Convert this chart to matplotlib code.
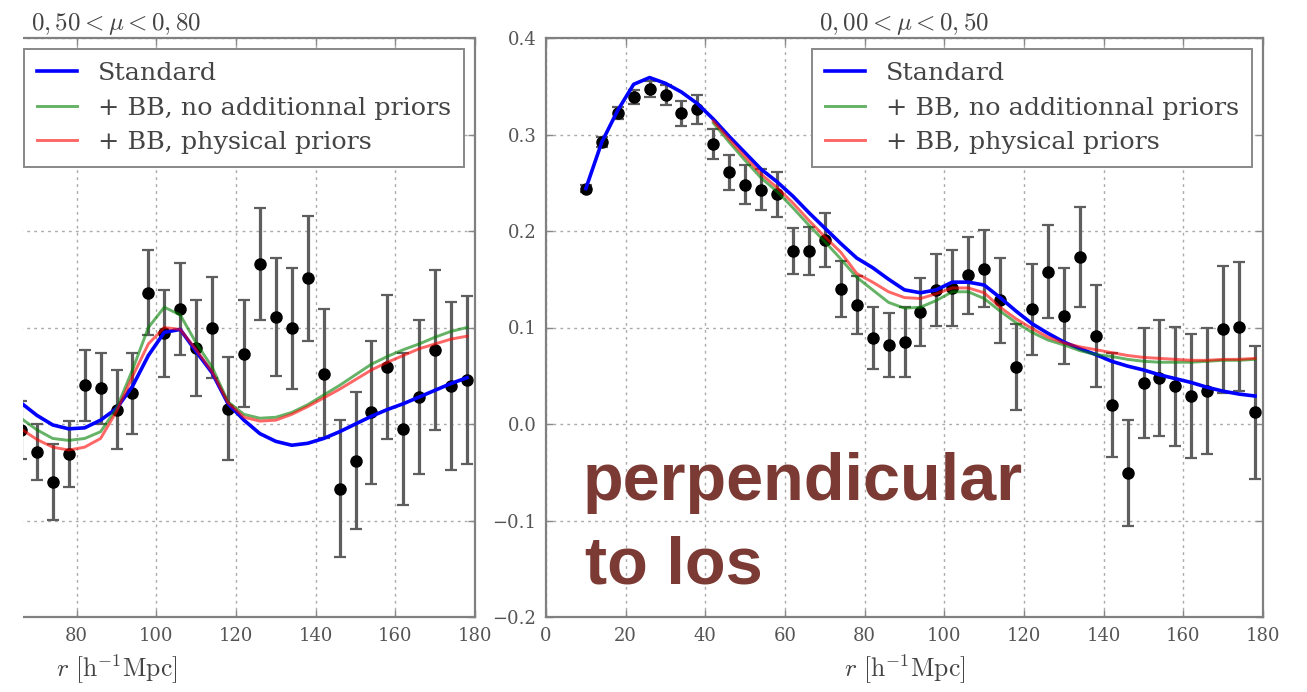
import matplotlib
matplotlib.use("Agg")
import matplotlib.pyplot as plt
from matplotlib.patches import Rectangle

plt.rcParams['mathtext.fontset'] = 'cm'
plt.rcParams['font.family'] = ['DejaVu Serif']

# ---- left panel: 0.50 < mu < 0.80 (cut on the left at r ~ 66) ----
r_left = [66, 70, 74, 78, 82, 86, 90, 94, 98, 102, 106, 110, 114, 118, 122,
          126, 130, 134, 138, 142, 146, 150, 154, 158, 162, 166, 170, 174, 178]
xi_left = [-0.006, -0.029, -0.060, -0.031, 0.040, 0.037, 0.015, 0.032, 0.136, 0.094,
           0.119, 0.079, 0.100, 0.016, 0.073, 0.166, 0.111, 0.099, 0.151, 0.052,
           -0.067, -0.038, 0.012, 0.059, -0.005, 0.028, 0.077, 0.039, 0.046]
err_left = [0.030, 0.0295, 0.039, 0.0345, 0.037, 0.037, 0.0405, 0.042, 0.044, 0.045,
            0.0475, 0.050, 0.052, 0.053, 0.055, 0.058, 0.061, 0.063, 0.065, 0.067,
            0.071, 0.071, 0.074, 0.075, 0.0785, 0.080, 0.083, 0.087, 0.087]
std_left = [0.022, 0.009, -0.001, -0.005, -0.004, 0.004, 0.016, 0.039, 0.071, 0.095,
            0.098, 0.075, 0.053, 0.021, 0.004, -0.010, -0.018, -0.022, -0.020, -0.015,
            -0.008, 0.000, 0.008, 0.015, 0.021, 0.028, 0.035, 0.042, 0.048]
bb_free_left = [0.006, -0.006, -0.015, -0.017, -0.015, -0.008, 0.016, 0.056, 0.100, 0.121,
                0.113, 0.084, 0.059, 0.023, 0.010, 0.006, 0.007, 0.012, 0.020, 0.030,
                0.040, 0.051, 0.062, 0.070, 0.077, 0.083, 0.090, 0.096, 0.100]
bb_phys_left = [-0.005, -0.016, -0.024, -0.027, -0.024, -0.015, 0.013, 0.049, 0.083, 0.100,
                0.098, 0.077, 0.054, 0.022, 0.007, 0.003, 0.004, 0.010, 0.018, 0.027,
                0.036, 0.046, 0.056, 0.064, 0.071, 0.078, 0.083, 0.088, 0.091]

# ---- right panel: 0.00 < mu < 0.50 ----
r_right = [10, 14, 18, 22, 26, 30, 34, 38, 42, 46, 50, 54, 58, 62, 66, 70, 74, 78,
           82, 86, 90, 94, 98, 102, 106, 110, 114, 118, 122, 126, 130, 134, 138,
           142, 146, 150, 154, 158, 162, 166, 170, 174, 178]
xi_right = [0.244, 0.292, 0.322, 0.339, 0.347, 0.341, 0.322, 0.326, 0.290, 0.261,
            0.248, 0.243, 0.238, 0.179, 0.179, 0.191, 0.140, 0.123, 0.089, 0.082,
            0.085, 0.116, 0.139, 0.141, 0.154, 0.161, 0.128, 0.059, 0.119, 0.158,
            0.112, 0.173, 0.091, 0.020, -0.051, 0.042, 0.048, 0.039, 0.029, 0.034,
            0.098, 0.101, 0.012]
err_right = [0.004, 0.005, 0.006, 0.007, 0.008, 0.010, 0.013, 0.015, 0.0155, 0.018,
             0.020, 0.021, 0.023, 0.024, 0.025, 0.028, 0.029, 0.030, 0.032, 0.033,
             0.036, 0.035, 0.037, 0.039, 0.040, 0.040, 0.044, 0.045, 0.047, 0.048,
             0.050, 0.052, 0.053, 0.054, 0.055, 0.057, 0.060, 0.062, 0.064, 0.065,
             0.066, 0.067, 0.069]
std_right = [0.244, 0.292, 0.325, 0.352, 0.359, 0.353, 0.344, 0.332, 0.316, 0.298,
             0.281, 0.264, 0.251, 0.236, 0.219, 0.203, 0.187, 0.172, 0.162, 0.150,
             0.139, 0.136, 0.139, 0.147, 0.147, 0.144, 0.131, 0.117, 0.104, 0.094,
             0.085, 0.078, 0.072, 0.065, 0.060, 0.056, 0.051, 0.047, 0.043, 0.038,
             0.034, 0.031, 0.029]
r_bb = r_right[8:]
bb_free_right = [0.312, 0.292, 0.273, 0.255, 0.241, 0.224, 0.206, 0.189, 0.171, 0.152,
                 0.139, 0.126, 0.120, 0.121, 0.128, 0.137, 0.137, 0.130, 0.117, 0.105,
                 0.095, 0.087, 0.082, 0.076, 0.072, 0.070, 0.067, 0.065, 0.064, 0.064,
                 0.064, 0.065, 0.066, 0.066, 0.067]
bb_phys_right = [0.314, 0.295, 0.277, 0.259, 0.245, 0.229, 0.211, 0.194, 0.178, 0.156,
                 0.147, 0.137, 0.131, 0.130, 0.135, 0.141, 0.141, 0.136, 0.121, 0.109,
                 0.099, 0.090, 0.084, 0.080, 0.077, 0.074, 0.071, 0.069, 0.068, 0.067,
                 0.066, 0.066, 0.067, 0.067, 0.068]

xticks_left = [80, 100, 120, 140, 160, 180]
xticks_right = [0, 20, 40, 60, 80, 100, 120, 140, 160, 180]
yticks = [-0.2, -0.1, 0.0, 0.1, 0.2, 0.3, 0.4]
labels = ['Standard', '+ BB, no additionnal priors', '+ BB, physical priors']
TXT = '#444444'
W, H = 1307, 692


def draw_panel(ax, r, xi, err, std, r_bb, bb_free, bb_phys, title, xticks):
    ax.errorbar(r, xi, yerr=err, fmt='o', color='black', ms=8, ecolor='#5e5e5e',
                elinewidth=2.3, capsize=4, capthick=1.6, zorder=2)
    ax.plot(r, std, color='#0000ff', lw=2.6, label=labels[0], zorder=3)
    ax.plot(r_bb, bb_free, color='green', alpha=0.6, lw=2.1, label=labels[1], zorder=3)
    ax.plot(r_bb, bb_phys, color='red', alpha=0.6, lw=2.1, label=labels[2], zorder=3)

    ax.set_xlim(0, 180)
    ax.set_ylim(-0.2, 0.4)
    ax.set_xticks(xticks)
    ax.set_yticks(yticks)
    ax.grid(True, linestyle=(0, (2, 3)), color='#aaaaaa', lw=1.0, zorder=0)
    ax.tick_params(direction='in', length=5, width=1, color='#888888', top=True,
                   right=True, labelsize=13, labelcolor='#555555', pad=7)
    for s in ax.spines.values():
        s.set_color('#808080')
        s.set_linewidth(1.6)

    ax.set_title(title, fontsize=18, color=TXT, pad=6)
    ax.set_xlabel(r'$r\ [\mathrm{h^{-1}Mpc}]$', fontsize=18.5, color=TXT, labelpad=6)

    leg = ax.legend(loc='upper right', fontsize=18.3, frameon=True, fancybox=False,
                    framealpha=1, edgecolor='#888888', handlelength=1.6,
                    handletextpad=0.8, labelspacing=0.45, borderpad=0.5,
                    borderaxespad=0.45)
    leg.get_frame().set_linewidth(1.4)
    for t in leg.get_texts():
        t.set_color(TXT)


fig = plt.figure(figsize=(W / 100, H / 100), dpi=100)

ax_bottom = 1 - 617 / H
ax_height = (617 - 38) / H
ax_left = fig.add_axes([-242 / W, ax_bottom, 717 / W, ax_height])
ax_right = fig.add_axes([546 / W, ax_bottom, 717 / W, ax_height])

draw_panel(ax_left, r_left, xi_left, err_left, std_left, r_left, bb_free_left,
           bb_phys_left, r'$0,50 < \mu < 0,80$', xticks_left)
draw_panel(ax_right, r_right, xi_right, err_right, std_right, r_bb, bb_free_right,
           bb_phys_right, r'$0,00 < \mu < 0,50$', xticks_right)

# the left panel is cropped in the original picture: its y labels are out of view
ax_left.tick_params(labelleft=False, left=False)
ax_left.spines['left'].set_visible(False)
fig.add_artist(Rectangle((0, 0), 23 / W, 1, transform=fig.transFigure,
                         facecolor='white', edgecolor='none', zorder=10))

annot = dict(fontsize=48, fontweight='bold', color='#7b3a33',
             family=['Liberation Sans', 'DejaVu Sans'], ha='left', va='baseline')
fig.text(583 / W, 1 - 500 / H, 'perpendicular', **annot)
fig.text(585 / W, 1 - 583 / H, 'to los', **annot)

fig.savefig('out.png', dpi=100)
